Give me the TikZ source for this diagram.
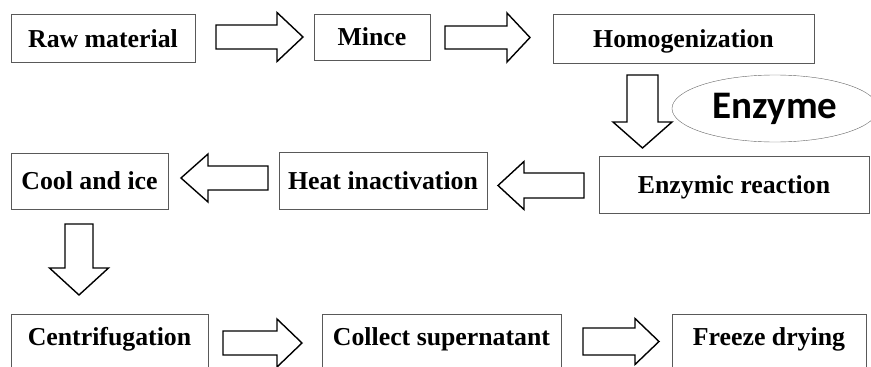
\documentclass[tikz,border=0pt]{standalone}
\usepackage{fontspec}
\setmainfont{Liberation Serif}
\newfontfamily\enzfont{Carlito}
\usetikzlibrary{shapes.geometric}
\tikzset{
  stepbox/.style={draw=black!65, line width=0.8pt, fill=white, inner sep=0pt,
    font=\fontsize{25.8}{28}\selectfont\bfseries, text height=17pt, text depth=0pt},
  lowbox/.style={stepbox, text depth=16pt, minimum height=62pt},
  blockarrow/.style={draw=black, line width=1.4pt, fill=white, line join=miter}
}
\begin{document}
\begin{tikzpicture}[x=1pt, y=-1pt]
\useasboundingbox (0,0) rectangle (871,367);
\clip (0,0) rectangle (871,367);
% process steps
\node[stepbox, minimum width=184pt, minimum height=48pt] (raw) at (103,38.5) {Raw material};
\node[stepbox, minimum width=116pt, minimum height=46pt] (mince) at (372,37) {Mince};
\node[stepbox, minimum width=261pt, minimum height=49pt] (homo) at (683.5,38.5) {Homogenization};
\node[stepbox, minimum width=270pt, minimum height=57pt] (react) at (734,184.5) {Enzymic reaction};
\node[stepbox, minimum width=208pt, minimum height=57pt] (heat) at (383,180.5) {Heat inactivation};
\node[stepbox, minimum width=157pt, minimum height=56pt] (cool) at (89.5,181) {Cool and ice};
\node[lowbox, minimum width=197pt] (centri) at (109.5,345) {Centrifugation};
\node[lowbox, minimum width=239pt] (collect) at (441.5,345) {Collect supernatant};
\node[lowbox, minimum width=194pt] (freeze) at (769,345) {Freeze drying};
\node[draw=black!60, ellipse, inner sep=0pt, minimum width=206pt, minimum height=67pt,
  font=\enzfont\fontsize{39}{42}\selectfont\bfseries] (enzyme) at (775,108.5) {Enzyme};
% block arrows: tail x/tail y/angle/length/head/shaft half/head half
\foreach \tx/\ty/\ang/\len/\hd/\sh/\hh in {
  216/37/0/87/26/12/24.5,
  445/37.5/0/85/23/11.5/24.5,
  642.5/75/-90/73/26/15.5/29.5,
  584/185.5/180/86/26/12.5/24,
  268/178/180/87/27/12/24,
  79/224/-90/71/27/14/29.5,
  223/343/0/79/25/12/24,
  583/341.5/0/76/24/13.5/23}
{
  \draw[blockarrow, shift={(\tx,\ty)}, rotate=\ang]
    (0,-\sh) -- (\len-\hd,-\sh) -- (\len-\hd,-\hh) -- (\len,0)
    -- (\len-\hd,\hh) -- (\len-\hd,\sh) -- (0,\sh) -- cycle;
}
\end{tikzpicture}
\end{document}
